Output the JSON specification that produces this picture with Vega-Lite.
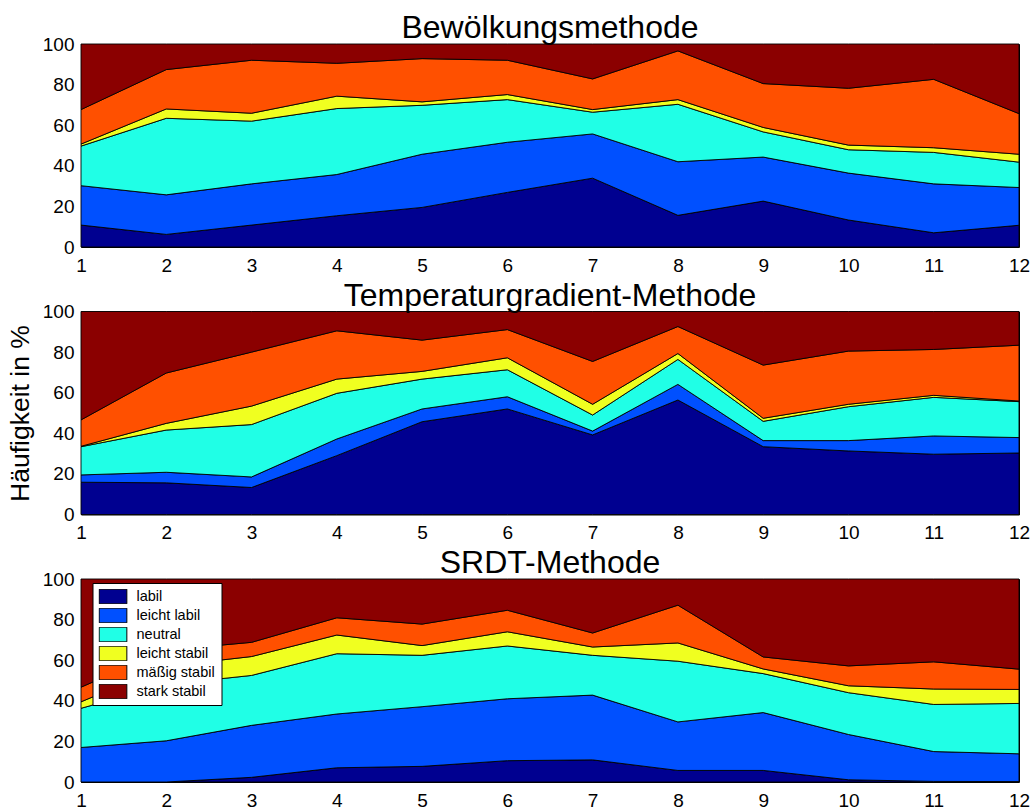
{
  "$schema": "https://vega.github.io/schema/vega-lite/v6.json",
  "padding": {"top": 11, "left": 6, "right": 5, "bottom": 0},
  "config": {
    "font": "Liberation Sans",
    "view": {"stroke": "black", "strokeWidth": 1},
    "axis": {"domain": false, "ticks": false, "grid": false, "labelFont": "Liberation Sans", "labelFontSize": 19, "labelColor": "black", "titleColor": "black", "titleFont": "Liberation Sans", "titleFontWeight": "normal", "labelFlush": false},
    "title": {"fontSize": 32, "fontWeight": "normal", "color": "black", "font": "Liberation Sans", "baseline": "alphabetic", "offset": -10}
  },
  "spacing": 2.5,
  "resolve": {"legend": {"color": "independent"}},
  "datasets": {
    "d": [
      {"m":"B","x":1,"c":"labil","k":1,"v":10.8},{"m":"B","x":1,"c":"leicht labil","k":2,"v":19.4},{"m":"B","x":1,"c":"neutral","k":3,"v":19.5},{"m":"B","x":1,"c":"leicht stabil","k":4,"v":1.0},{"m":"B","x":1,"c":"mäßig stabil","k":5,"v":17.0},{"m":"B","x":1,"c":"stark stabil","k":6,"v":32.3},
      {"m":"B","x":2,"c":"labil","k":1,"v":6.2},{"m":"B","x":2,"c":"leicht labil","k":2,"v":19.5},{"m":"B","x":2,"c":"neutral","k":3,"v":37.7},{"m":"B","x":2,"c":"leicht stabil","k":4,"v":4.6},{"m":"B","x":2,"c":"mäßig stabil","k":5,"v":19.4},{"m":"B","x":2,"c":"stark stabil","k":6,"v":12.6},
      {"m":"B","x":3,"c":"labil","k":1,"v":10.8},{"m":"B","x":3,"c":"leicht labil","k":2,"v":20.3},{"m":"B","x":3,"c":"neutral","k":3,"v":30.9},{"m":"B","x":3,"c":"leicht stabil","k":4,"v":3.9},{"m":"B","x":3,"c":"mäßig stabil","k":5,"v":26.1},{"m":"B","x":3,"c":"stark stabil","k":6,"v":8.0},
      {"m":"B","x":4,"c":"labil","k":1,"v":15.4},{"m":"B","x":4,"c":"leicht labil","k":2,"v":20.3},{"m":"B","x":4,"c":"neutral","k":3,"v":32.5},{"m":"B","x":4,"c":"leicht stabil","k":4,"v":6.1},{"m":"B","x":4,"c":"mäßig stabil","k":5,"v":16.2},{"m":"B","x":4,"c":"stark stabil","k":6,"v":9.5},
      {"m":"B","x":5,"c":"labil","k":1,"v":19.5},{"m":"B","x":5,"c":"leicht labil","k":2,"v":26.2},{"m":"B","x":5,"c":"neutral","k":3,"v":24.1},{"m":"B","x":5,"c":"leicht stabil","k":4,"v":1.7},{"m":"B","x":5,"c":"mäßig stabil","k":5,"v":21.3},{"m":"B","x":5,"c":"stark stabil","k":6,"v":7.2},
      {"m":"B","x":6,"c":"labil","k":1,"v":26.9},{"m":"B","x":6,"c":"leicht labil","k":2,"v":24.7},{"m":"B","x":6,"c":"neutral","k":3,"v":21.0},{"m":"B","x":6,"c":"leicht stabil","k":4,"v":2.5},{"m":"B","x":6,"c":"mäßig stabil","k":5,"v":16.9},{"m":"B","x":6,"c":"stark stabil","k":6,"v":8.0},
      {"m":"B","x":7,"c":"labil","k":1,"v":33.9},{"m":"B","x":7,"c":"leicht labil","k":2,"v":21.8},{"m":"B","x":7,"c":"neutral","k":3,"v":10.7},{"m":"B","x":7,"c":"leicht stabil","k":4,"v":1.3},{"m":"B","x":7,"c":"mäßig stabil","k":5,"v":15.1},{"m":"B","x":7,"c":"stark stabil","k":6,"v":17.2},
      {"m":"B","x":8,"c":"labil","k":1,"v":15.6},{"m":"B","x":8,"c":"leicht labil","k":2,"v":26.4},{"m":"B","x":8,"c":"neutral","k":3,"v":28.3},{"m":"B","x":8,"c":"leicht stabil","k":4,"v":2.3},{"m":"B","x":8,"c":"mäßig stabil","k":5,"v":24.0},{"m":"B","x":8,"c":"stark stabil","k":6,"v":3.4},
      {"m":"B","x":9,"c":"labil","k":1,"v":22.6},{"m":"B","x":9,"c":"leicht labil","k":2,"v":21.7},{"m":"B","x":9,"c":"neutral","k":3,"v":12.4},{"m":"B","x":9,"c":"leicht stabil","k":4,"v":2.2},{"m":"B","x":9,"c":"mäßig stabil","k":5,"v":21.6},{"m":"B","x":9,"c":"stark stabil","k":6,"v":19.5},
      {"m":"B","x":10,"c":"labil","k":1,"v":13.3},{"m":"B","x":10,"c":"leicht labil","k":2,"v":23.1},{"m":"B","x":10,"c":"neutral","k":3,"v":11.5},{"m":"B","x":10,"c":"leicht stabil","k":4,"v":2.3},{"m":"B","x":10,"c":"mäßig stabil","k":5,"v":28.0},{"m":"B","x":10,"c":"stark stabil","k":6,"v":21.8},
      {"m":"B","x":11,"c":"labil","k":1,"v":7.0},{"m":"B","x":11,"c":"leicht labil","k":2,"v":24.1},{"m":"B","x":11,"c":"neutral","k":3,"v":15.5},{"m":"B","x":11,"c":"leicht stabil","k":4,"v":2.3},{"m":"B","x":11,"c":"mäßig stabil","k":5,"v":33.7},{"m":"B","x":11,"c":"stark stabil","k":6,"v":17.4},
      {"m":"B","x":12,"c":"labil","k":1,"v":10.7},{"m":"B","x":12,"c":"leicht labil","k":2,"v":18.6},{"m":"B","x":12,"c":"neutral","k":3,"v":12.5},{"m":"B","x":12,"c":"leicht stabil","k":4,"v":3.9},{"m":"B","x":12,"c":"mäßig stabil","k":5,"v":20.0},{"m":"B","x":12,"c":"stark stabil","k":6,"v":34.3},

      {"m":"T","x":1,"c":"labil","k":1,"v":15.9},{"m":"T","x":1,"c":"leicht labil","k":2,"v":3.6},{"m":"T","x":1,"c":"neutral","k":3,"v":13.9},{"m":"T","x":1,"c":"leicht stabil","k":4,"v":0.2},{"m":"T","x":1,"c":"mäßig stabil","k":5,"v":13.0},{"m":"T","x":1,"c":"stark stabil","k":6,"v":53.4},
      {"m":"T","x":2,"c":"labil","k":1,"v":15.6},{"m":"T","x":2,"c":"leicht labil","k":2,"v":5.2},{"m":"T","x":2,"c":"neutral","k":3,"v":20.8},{"m":"T","x":2,"c":"leicht stabil","k":4,"v":3.3},{"m":"T","x":2,"c":"mäßig stabil","k":5,"v":24.8},{"m":"T","x":2,"c":"stark stabil","k":6,"v":30.3},
      {"m":"T","x":3,"c":"labil","k":1,"v":13.3},{"m":"T","x":3,"c":"leicht labil","k":2,"v":5.2},{"m":"T","x":3,"c":"neutral","k":3,"v":25.8},{"m":"T","x":3,"c":"leicht stabil","k":4,"v":9.1},{"m":"T","x":3,"c":"mäßig stabil","k":5,"v":26.6},{"m":"T","x":3,"c":"stark stabil","k":6,"v":20.0},
      {"m":"T","x":4,"c":"labil","k":1,"v":29.0},{"m":"T","x":4,"c":"leicht labil","k":2,"v":8.2},{"m":"T","x":4,"c":"neutral","k":3,"v":22.5},{"m":"T","x":4,"c":"leicht stabil","k":4,"v":7.0},{"m":"T","x":4,"c":"mäßig stabil","k":5,"v":23.8},{"m":"T","x":4,"c":"stark stabil","k":6,"v":9.5},
      {"m":"T","x":5,"c":"labil","k":1,"v":45.7},{"m":"T","x":5,"c":"leicht labil","k":2,"v":6.3},{"m":"T","x":5,"c":"neutral","k":3,"v":14.7},{"m":"T","x":5,"c":"leicht stabil","k":4,"v":3.8},{"m":"T","x":5,"c":"mäßig stabil","k":5,"v":15.4},{"m":"T","x":5,"c":"stark stabil","k":6,"v":14.1},
      {"m":"T","x":6,"c":"labil","k":1,"v":52.0},{"m":"T","x":6,"c":"leicht labil","k":2,"v":6.0},{"m":"T","x":6,"c":"neutral","k":3,"v":13.3},{"m":"T","x":6,"c":"leicht stabil","k":4,"v":5.9},{"m":"T","x":6,"c":"mäßig stabil","k":5,"v":13.9},{"m":"T","x":6,"c":"stark stabil","k":6,"v":8.9},
      {"m":"T","x":7,"c":"labil","k":1,"v":39.2},{"m":"T","x":7,"c":"leicht labil","k":2,"v":1.9},{"m":"T","x":7,"c":"neutral","k":3,"v":7.9},{"m":"T","x":7,"c":"leicht stabil","k":4,"v":5.3},{"m":"T","x":7,"c":"mäßig stabil","k":5,"v":21.1},{"m":"T","x":7,"c":"stark stabil","k":6,"v":24.6},
      {"m":"T","x":8,"c":"labil","k":1,"v":56.4},{"m":"T","x":8,"c":"leicht labil","k":2,"v":7.7},{"m":"T","x":8,"c":"neutral","k":3,"v":12.3},{"m":"T","x":8,"c":"leicht stabil","k":4,"v":2.9},{"m":"T","x":8,"c":"mäßig stabil","k":5,"v":13.3},{"m":"T","x":8,"c":"stark stabil","k":6,"v":7.4},
      {"m":"T","x":9,"c":"labil","k":1,"v":33.4},{"m":"T","x":9,"c":"leicht labil","k":2,"v":3.0},{"m":"T","x":9,"c":"neutral","k":3,"v":9.5},{"m":"T","x":9,"c":"leicht stabil","k":4,"v":1.5},{"m":"T","x":9,"c":"mäßig stabil","k":5,"v":26.2},{"m":"T","x":9,"c":"stark stabil","k":6,"v":26.4},
      {"m":"T","x":10,"c":"labil","k":1,"v":31.3},{"m":"T","x":10,"c":"leicht labil","k":2,"v":5.1},{"m":"T","x":10,"c":"neutral","k":3,"v":16.7},{"m":"T","x":10,"c":"leicht stabil","k":4,"v":1.2},{"m":"T","x":10,"c":"mäßig stabil","k":5,"v":26.2},{"m":"T","x":10,"c":"stark stabil","k":6,"v":19.5},
      {"m":"T","x":11,"c":"labil","k":1,"v":29.7},{"m":"T","x":11,"c":"leicht labil","k":2,"v":9.0},{"m":"T","x":11,"c":"neutral","k":3,"v":19.0},{"m":"T","x":11,"c":"leicht stabil","k":4,"v":1.0},{"m":"T","x":11,"c":"mäßig stabil","k":5,"v":22.6},{"m":"T","x":11,"c":"stark stabil","k":6,"v":18.7},
      {"m":"T","x":12,"c":"labil","k":1,"v":30.3},{"m":"T","x":12,"c":"leicht labil","k":2,"v":7.6},{"m":"T","x":12,"c":"neutral","k":3,"v":17.7},{"m":"T","x":12,"c":"leicht stabil","k":4,"v":0.3},{"m":"T","x":12,"c":"mäßig stabil","k":5,"v":27.5},{"m":"T","x":12,"c":"stark stabil","k":6,"v":16.6},

      {"m":"S","x":1,"c":"labil","k":1,"v":0.0},{"m":"S","x":1,"c":"leicht labil","k":2,"v":17.0},{"m":"S","x":1,"c":"neutral","k":3,"v":19.3},{"m":"S","x":1,"c":"leicht stabil","k":4,"v":3.2},{"m":"S","x":1,"c":"mäßig stabil","k":5,"v":7.2},{"m":"S","x":1,"c":"stark stabil","k":6,"v":53.3},
      {"m":"S","x":2,"c":"labil","k":1,"v":0.0},{"m":"S","x":2,"c":"leicht labil","k":2,"v":20.3},{"m":"S","x":2,"c":"neutral","k":3,"v":27.7},{"m":"S","x":2,"c":"leicht stabil","k":4,"v":9.0},{"m":"S","x":2,"c":"mäßig stabil","k":5,"v":8.0},{"m":"S","x":2,"c":"stark stabil","k":6,"v":35.0},
      {"m":"S","x":3,"c":"labil","k":1,"v":2.3},{"m":"S","x":3,"c":"leicht labil","k":2,"v":25.6},{"m":"S","x":3,"c":"neutral","k":3,"v":24.6},{"m":"S","x":3,"c":"leicht stabil","k":4,"v":9.3},{"m":"S","x":3,"c":"mäßig stabil","k":5,"v":7.0},{"m":"S","x":3,"c":"stark stabil","k":6,"v":31.2},
      {"m":"S","x":4,"c":"labil","k":1,"v":7.0},{"m":"S","x":4,"c":"leicht labil","k":2,"v":26.5},{"m":"S","x":4,"c":"neutral","k":3,"v":29.7},{"m":"S","x":4,"c":"leicht stabil","k":4,"v":9.2},{"m":"S","x":4,"c":"mäßig stabil","k":5,"v":8.5},{"m":"S","x":4,"c":"stark stabil","k":6,"v":19.1},
      {"m":"S","x":5,"c":"labil","k":1,"v":7.7},{"m":"S","x":5,"c":"leicht labil","k":2,"v":29.4},{"m":"S","x":5,"c":"neutral","k":3,"v":25.3},{"m":"S","x":5,"c":"leicht stabil","k":4,"v":4.8},{"m":"S","x":5,"c":"mäßig stabil","k":5,"v":10.6},{"m":"S","x":5,"c":"stark stabil","k":6,"v":22.2},
      {"m":"S","x":6,"c":"labil","k":1,"v":10.5},{"m":"S","x":6,"c":"leicht labil","k":2,"v":30.5},{"m":"S","x":6,"c":"neutral","k":3,"v":26.0},{"m":"S","x":6,"c":"leicht stabil","k":4,"v":7.0},{"m":"S","x":6,"c":"mäßig stabil","k":5,"v":10.6},{"m":"S","x":6,"c":"stark stabil","k":6,"v":15.4},
      {"m":"S","x":7,"c":"labil","k":1,"v":10.9},{"m":"S","x":7,"c":"leicht labil","k":2,"v":31.9},{"m":"S","x":7,"c":"neutral","k":3,"v":19.6},{"m":"S","x":7,"c":"leicht stabil","k":4,"v":4.1},{"m":"S","x":7,"c":"mäßig stabil","k":5,"v":6.9},{"m":"S","x":7,"c":"stark stabil","k":6,"v":26.6},
      {"m":"S","x":8,"c":"labil","k":1,"v":5.7},{"m":"S","x":8,"c":"leicht labil","k":2,"v":23.9},{"m":"S","x":8,"c":"neutral","k":3,"v":29.9},{"m":"S","x":8,"c":"leicht stabil","k":4,"v":9.0},{"m":"S","x":8,"c":"mäßig stabil","k":5,"v":18.6},{"m":"S","x":8,"c":"stark stabil","k":6,"v":12.9},
      {"m":"S","x":9,"c":"labil","k":1,"v":5.7},{"m":"S","x":9,"c":"leicht labil","k":2,"v":28.5},{"m":"S","x":9,"c":"neutral","k":3,"v":19.2},{"m":"S","x":9,"c":"leicht stabil","k":4,"v":2.3},{"m":"S","x":9,"c":"mäßig stabil","k":5,"v":5.9},{"m":"S","x":9,"c":"stark stabil","k":6,"v":38.4},
      {"m":"S","x":10,"c":"labil","k":1,"v":1.1},{"m":"S","x":10,"c":"leicht labil","k":2,"v":22.3},{"m":"S","x":10,"c":"neutral","k":3,"v":20.6},{"m":"S","x":10,"c":"leicht stabil","k":4,"v":3.4},{"m":"S","x":10,"c":"mäßig stabil","k":5,"v":9.8},{"m":"S","x":10,"c":"stark stabil","k":6,"v":42.8},
      {"m":"S","x":11,"c":"labil","k":1,"v":0.3},{"m":"S","x":11,"c":"leicht labil","k":2,"v":14.7},{"m":"S","x":11,"c":"neutral","k":3,"v":23.2},{"m":"S","x":11,"c":"leicht stabil","k":4,"v":7.6},{"m":"S","x":11,"c":"mäßig stabil","k":5,"v":13.4},{"m":"S","x":11,"c":"stark stabil","k":6,"v":40.8},
      {"m":"S","x":12,"c":"labil","k":1,"v":0.2},{"m":"S","x":12,"c":"leicht labil","k":2,"v":13.7},{"m":"S","x":12,"c":"neutral","k":3,"v":24.8},{"m":"S","x":12,"c":"leicht stabil","k":4,"v":6.9},{"m":"S","x":12,"c":"mäßig stabil","k":5,"v":10.0},{"m":"S","x":12,"c":"stark stabil","k":6,"v":44.4}
    ]
  },
  "vconcat": [
    {
      "title": "Bewölkungsmethode",
      "width": 938, "height": 203,
      "data": {"name": "d"},
      "transform": [{"filter": "datum.m == 'B'"}],
      "mark": {"type": "area", "stroke": "black", "strokeWidth": 0.9, "opacity": 1, "fillOpacity": 1},
      "encoding": {
        "x": {"field": "x", "type": "quantitative", "scale": {"domain": [1, 12], "nice": false, "zero": false}, "axis": {"values": [1,2,3,4,5,6,7,8,9,10,11,12], "format": "d", "labelPadding": 9, "title": null}},
        "y": {"field": "v", "type": "quantitative", "stack": "zero", "scale": {"domain": [0, 100], "nice": false}, "axis": {"values": [0,20,40,60,80,100], "labelPadding": 7, "title": null}},
        "color": {"field": "c", "type": "nominal", "scale": {"domain": ["labil","leicht labil","neutral","leicht stabil","mäßig stabil","stark stabil"], "range": ["#000090","#0050ff","#20ffe6","#f0ff20","#ff5000","#8b0000"]}, "legend": null},
        "order": {"field": "k", "type": "quantitative"}
      }
    },
    {
      "title": "Temperaturgradient-Methode",
      "width": 938, "height": 203,
      "data": {"name": "d"},
      "transform": [{"filter": "datum.m == 'T'"}],
      "mark": {"type": "area", "stroke": "black", "strokeWidth": 0.9, "opacity": 1, "fillOpacity": 1},
      "encoding": {
        "x": {"field": "x", "type": "quantitative", "scale": {"domain": [1, 12], "nice": false, "zero": false}, "axis": {"values": [1,2,3,4,5,6,7,8,9,10,11,12], "format": "d", "labelPadding": 9, "title": null}},
        "y": {"field": "v", "type": "quantitative", "stack": "zero", "scale": {"domain": [0, 100], "nice": false}, "axis": {"values": [0,20,40,60,80,100], "labelPadding": 7, "title": "Häufigkeit in %", "titleFontSize": 26.5, "titlePadding": 8}},
        "color": {"field": "c", "type": "nominal", "scale": {"domain": ["labil","leicht labil","neutral","leicht stabil","mäßig stabil","stark stabil"], "range": ["#000090","#0050ff","#20ffe6","#f0ff20","#ff5000","#8b0000"]}, "legend": null},
        "order": {"field": "k", "type": "quantitative"}
      }
    },
    {
      "title": "SRDT-Methode",
      "width": 938, "height": 203,
      "data": {"name": "d"},
      "transform": [{"filter": "datum.m == 'S'"}],
      "mark": {"type": "area", "stroke": "black", "strokeWidth": 0.9, "opacity": 1, "fillOpacity": 1},
      "encoding": {
        "x": {"field": "x", "type": "quantitative", "scale": {"domain": [1, 12], "nice": false, "zero": false}, "axis": {"values": [1,2,3,4,5,6,7,8,9,10,11,12], "format": "d", "labelPadding": 9, "title": null}},
        "y": {"field": "v", "type": "quantitative", "stack": "zero", "scale": {"domain": [0, 100], "nice": false}, "axis": {"values": [0,20,40,60,80,100], "labelPadding": 7, "title": null}},
        "color": {"field": "c", "type": "nominal", "scale": {"domain": ["labil","leicht labil","neutral","leicht stabil","mäßig stabil","stark stabil"], "range": ["#000090","#0050ff","#20ffe6","#f0ff20","#ff5000","#8b0000"]},
          "legend": {"title": null, "orient": "none", "legendX": 11.5, "legendY": 4, "fillColor": "white", "strokeColor": "black", "padding": 6, "labelFontSize": 14.5, "labelFont": "Liberation Sans", "labelColor": "black", "labelOffset": 9, "symbolType": "M-1,-0.53H1V0.53H-1Z", "symbolSize": 767, "symbolStrokeColor": "black", "symbolStrokeWidth": 1, "symbolOpacity": 1, "clipHeight": 15, "rowPadding": 3}},
        "order": {"field": "k", "type": "quantitative"}
      }
    }
  ]
}
